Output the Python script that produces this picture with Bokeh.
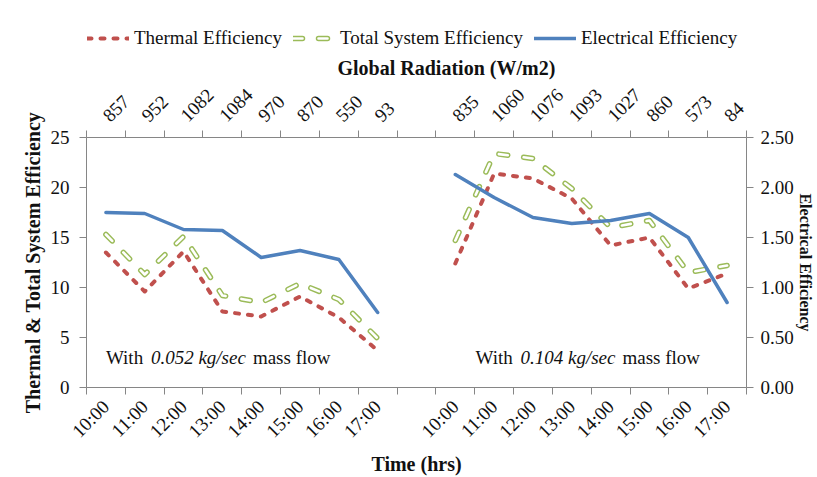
import math
from bokeh.plotting import figure
from bokeh.layouts import column
from bokeh.models import (Range1d, LinearAxis, FixedTicker, Legend, LegendItem,
                          Label, Title, NumeralTickFormatter)
from bokeh.embed import file_html
from bokeh.resources import INLINE

# ---------------- data ----------------
times = ["10:00", "11:00", "12:00", "13:00", "14:00", "15:00", "16:00", "17:00"]
radiation_052 = [857, 952, 1082, 1084, 970, 870, 550, 93]
radiation_104 = [835, 1060, 1076, 1093, 1027, 860, 573, 84]

thermal_052 = [13.5, 9.6, 13.6, 7.6, 7.1, 9.1, 7.0, 3.7]
total_052 = [15.3, 11.3, 15.1, 9.2, 8.5, 10.4, 8.8, 4.9]
electrical_052 = [1.75, 1.74, 1.58, 1.57, 1.30, 1.37, 1.28, 0.75]

thermal_104 = [12.4, 21.4, 20.9, 18.9, 14.2, 15.0, 9.9, 11.4]
total_104 = [14.7, 23.4, 22.9, 19.9, 16.0, 16.7, 11.5, 12.2]
electrical_104 = [2.13, 1.90, 1.70, 1.64, 1.67, 1.74, 1.50, 0.85]

left_ticks = [0, 5, 10, 15, 20, 25]
right_ticks = [0.0, 0.5, 1.0, 1.5, 2.0, 2.5]

# ---------------- styling ----------------
FONT = "Liberation Serif"
AX = "#868686"
TXT = "#111111"
RED = "#C0504D"
GREEN = "#9BBB59"
BLUE = "#4F81BD"
W = 817
LEG_H = 50

n = len(times)
slots = 2 * n + 1
x1 = [i + 0.5 for i in range(n)]
x2 = [n + 1 + i + 0.5 for i in range(n)]
label_pos = x1 + x2
boundaries = list(range(slots + 1))

p = figure(width=W, height=477 - LEG_H, x_range=Range1d(0, slots), y_range=Range1d(0, 25),
           output_backend="svg", toolbar_location=None, title_location=None,
           min_border_left=86, min_border_right=71, min_border_top=87, min_border_bottom=90)
p.extra_y_ranges = {"elec": Range1d(0, 2.5)}
p.grid.visible = False
p.outline_line_color = None


def style_axis(ax):
    ax.axis_line_color = AX
    ax.major_tick_line_color = AX
    ax.minor_tick_line_color = AX
    ax.major_label_text_font = FONT
    ax.major_label_text_font_size = "19px"
    ax.major_label_text_color = TXT
    ax.axis_label_text_font = FONT
    ax.axis_label_text_font_size = "20px"
    ax.axis_label_text_font_style = "bold"
    ax.axis_label_text_color = TXT


# bottom axis (time of day)
xb = p.xaxis[0]
xb.ticker = FixedTicker(ticks=label_pos, minor_ticks=boundaries)
xb.major_label_overrides = {x: t for x, t in zip(label_pos, times + times)}
style_axis(xb)
xb.major_tick_out = 0
xb.major_tick_in = 0
xb.minor_tick_out = 7
xb.minor_tick_in = 0
xb.major_label_orientation = math.pi / 4
xb.major_label_standoff = 9
xb.axis_label = "Time (hrs)"
xb.axis_label_standoff = 1

# top axis (global radiation)
xt = LinearAxis(ticker=FixedTicker(ticks=label_pos, minor_ticks=boundaries))
xt.major_label_overrides = {x: str(r) for x, r in zip(label_pos, radiation_052 + radiation_104)}
style_axis(xt)
xt.major_tick_out = 0
xt.major_tick_in = 0
xt.minor_tick_out = 7
xt.minor_tick_in = 0
xt.major_label_orientation = math.pi / 4
xt.major_label_standoff = 12
p.add_layout(xt, "above")
p.add_layout(Title(text="Global Radiation (W/m2)", align="left", offset=251, standoff=2,
                   text_font=FONT, text_font_size="20px", text_font_style="bold",
                   text_color=TXT), "above")

# left axis
yl = p.yaxis[0]
yl.ticker = FixedTicker(ticks=left_ticks)
style_axis(yl)
yl.major_tick_out = 7
yl.major_tick_in = 0
yl.major_label_standoff = 10
yl.axis_label = "Thermal & Total System Efficiency"
yl.axis_label_standoff = 4

# right axis
yr = LinearAxis(y_range_name="elec", ticker=FixedTicker(ticks=right_ticks),
                formatter=NumeralTickFormatter(format="0.00"))
style_axis(yr)
yr.major_tick_out = 7
yr.major_tick_in = 0
yr.major_label_standoff = 7
yr.axis_label = "Electrical Efficiency"
yr.axis_label_standoff = 0
yr.axis_label_text_font_size = "16px"
p.add_layout(yr, "right")

# ---------------- series ----------------
red_kw = dict(line_color=RED, line_width=4, line_dash="4 9", line_cap="round", line_join="round")
g_kw = dict(line_color=GREEN, line_width=5.5, line_dash="9 16", line_cap="round", line_join="round")
gw_kw = dict(line_color="white", line_width=2.6, line_dash="9 16", line_cap="round", line_join="round")
b_kw = dict(line_color=BLUE, line_width=3.5, line_join="round", line_cap="round")

for xs, th, tot in [(x1, thermal_052, total_052), (x2, thermal_104, total_104)]:
    p.line(xs, th, **red_kw)
    p.line(xs, tot, **g_kw)
    p.line(xs, tot, **gw_kw)
for xs, el in [(x1, electrical_052), (x2, electrical_104)]:
    p.line(xs, el, y_range_name="elec", **b_kw)

# ---------------- annotations ----------------
for x0, flow in [(x1[0], "0.052 kg/sec"), (x2[0] + 0.52, "0.104 kg/sec")]:
    for txt, off, style in [("With", 0, "normal"), (flow, 45, "italic"), ("mass flow", 147, "normal")]:
        p.add_layout(Label(x=x0, y=3.0, x_offset=off, text=txt, text_font=FONT,
                           text_font_size="19px", text_font_style=style, text_color=TXT,
                           text_baseline="middle", text_align="left"))

# ---------------- legend strip (own small canvas above the chart) ----------------
# the series are drawn here again only to give the legend its keys; the y range keeps them out of view
lg = figure(width=W, height=LEG_H, x_range=Range1d(0, slots), y_range=Range1d(-200, -100),
            output_backend="svg", toolbar_location=None, title_location=None,
            x_axis_location=None, y_axis_location=None, min_border=0)
lg.grid.visible = False
lg.outline_line_color = None
l_th = lg.line(x1, thermal_052, **red_kw)
l_g = lg.line(x1, total_052, **g_kw)
l_gw = lg.line(x1, total_052, **gw_kw)
l_b = lg.line(x1, electrical_052, **b_kw)
legend = Legend(items=[
    LegendItem(label="Thermal Efficiency", renderers=[l_th]),
    LegendItem(label="Total System Efficiency", renderers=[l_g, l_gw]),
    LegendItem(label="Electrical Efficiency", renderers=[l_b]),
], orientation="horizontal", location=(1, 1))
legend.label_text_font = FONT
legend.label_text_font_size = "19px"
legend.label_text_color = TXT
legend.glyph_width = 42
legend.label_standoff = 5
legend.spacing = 11
legend.padding = 2
legend.margin = 0
legend.border_line_color = None
legend.background_fill_alpha = 0
lg.add_layout(legend)

layout = column(lg, p, spacing=0)
open("out.html", "w").write(file_html(layout, INLINE))
